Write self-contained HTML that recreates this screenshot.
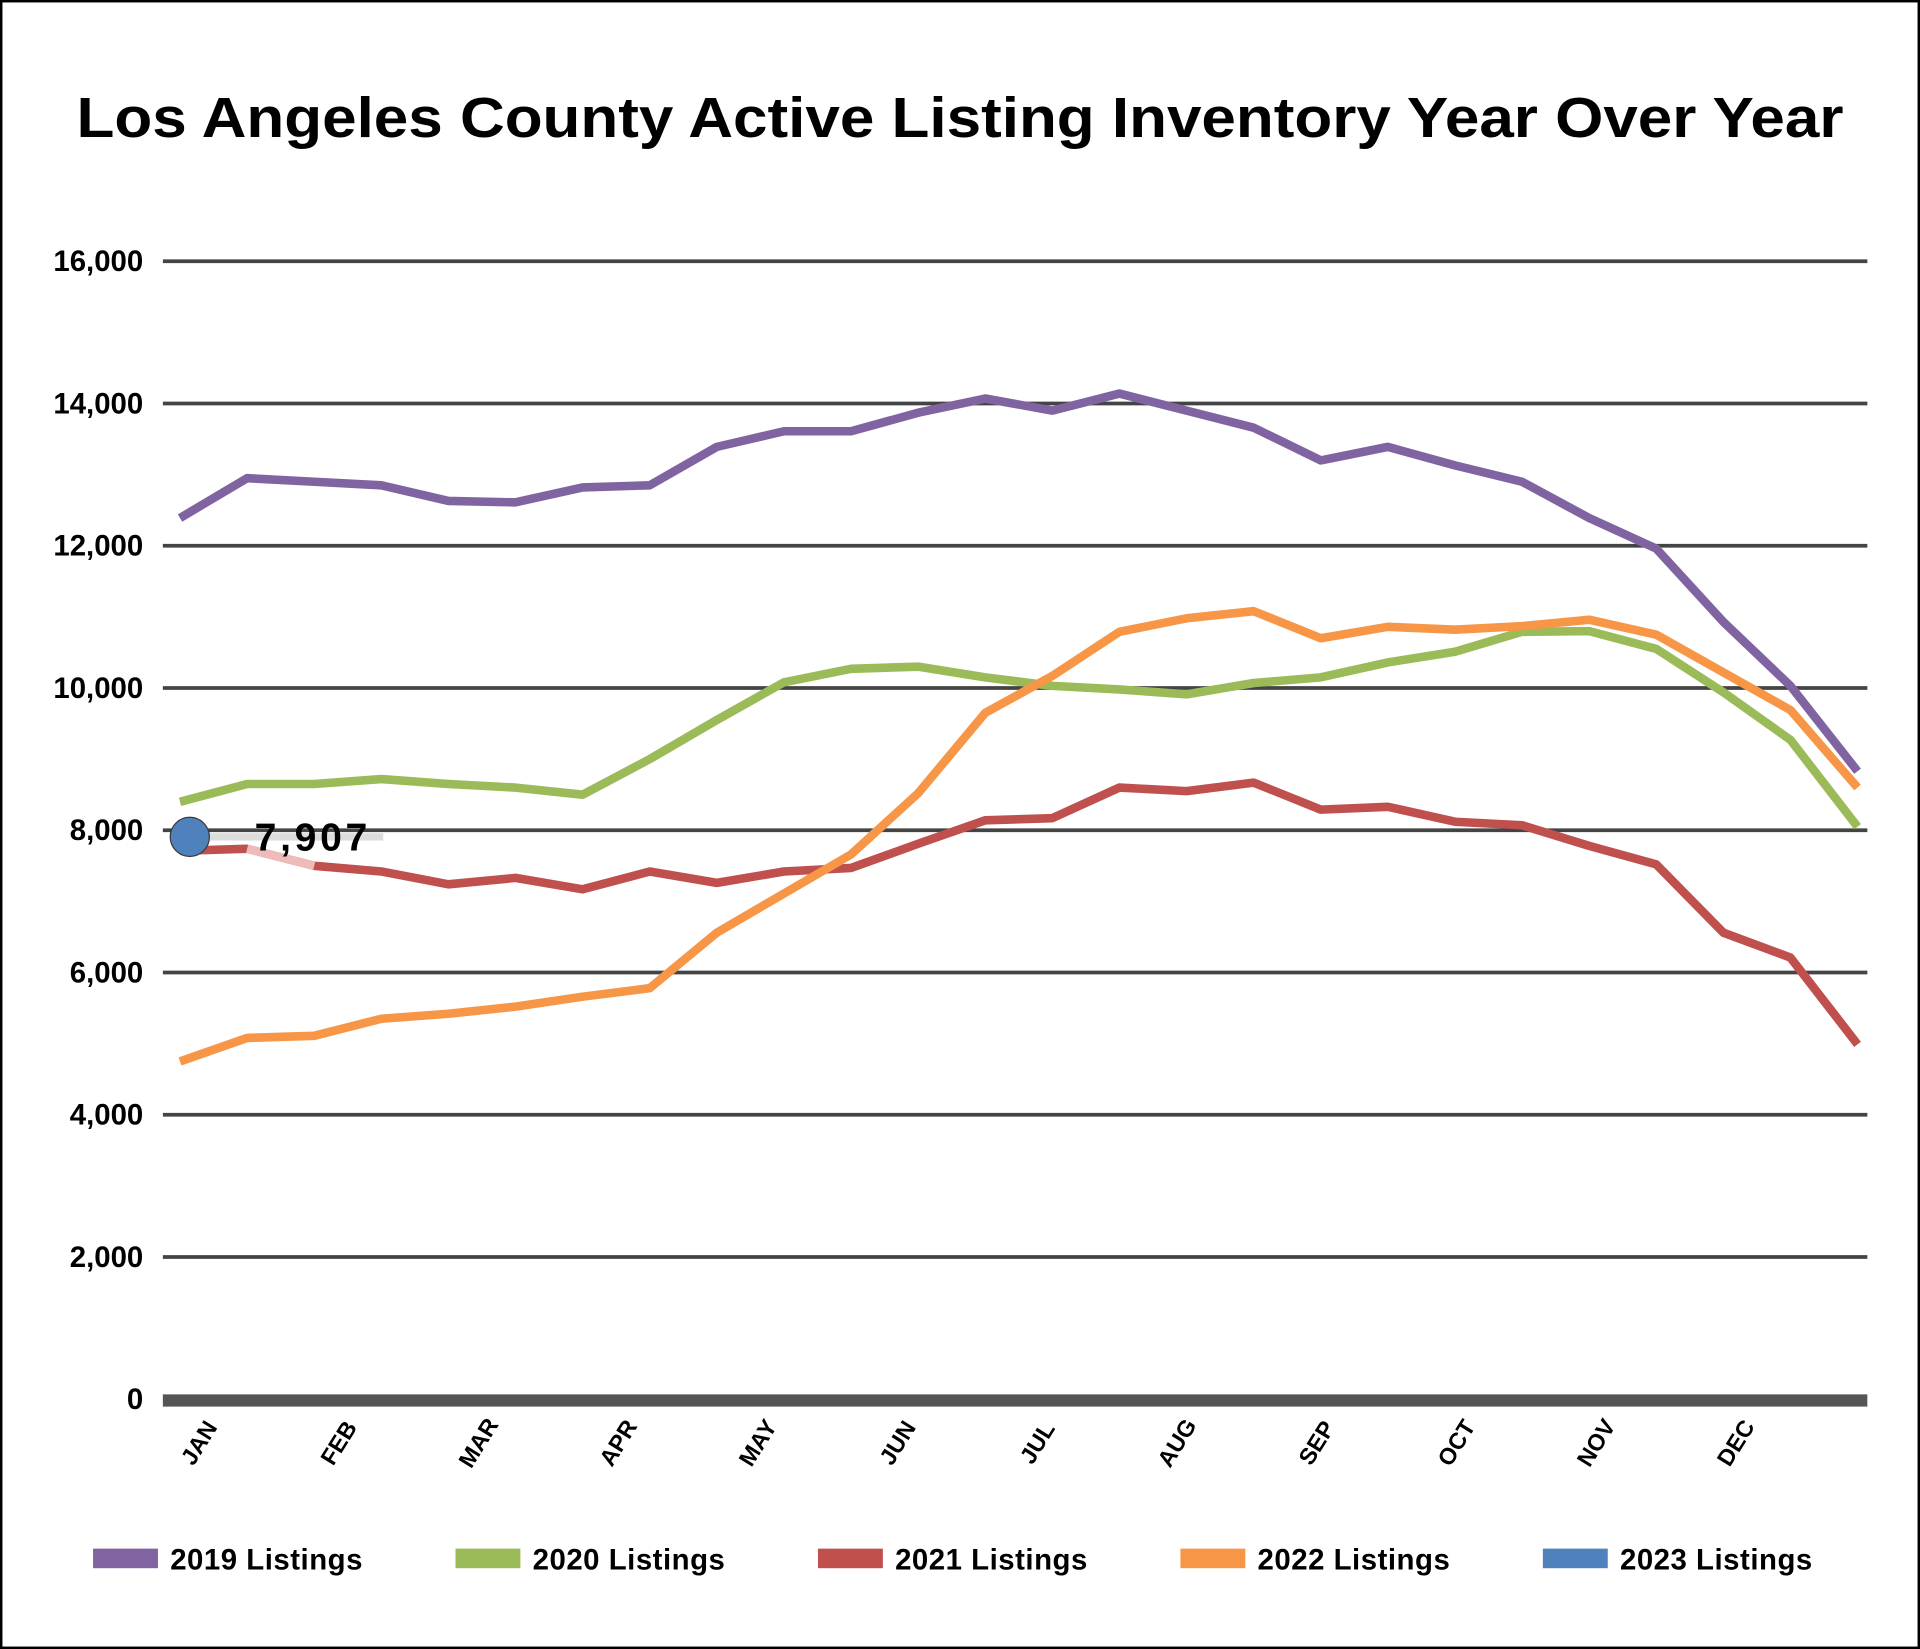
<!DOCTYPE html>
<html><head><meta charset="utf-8"><style>
html,body{margin:0;padding:0;background:#fff;}
svg{display:block;font-family:"Liberation Sans",sans-serif;}
</style></head><body>
<svg id="chart" width="1920" height="1649" viewBox="0 0 1568 1347" preserveAspectRatio="none" xmlns="http://www.w3.org/2000/svg">
<rect x="1" y="1" width="1566" height="1345" fill="#fff" stroke="#000" stroke-width="2"/>
<text x="784" y="112" text-anchor="middle" font-size="46" font-weight="bold" textLength="1443" lengthAdjust="spacingAndGlyphs">Los Angeles County Active Listing Inventory Year Over Year</text>
<g id="grid"></g><g id="series"></g><g id="xlabels"></g><g id="legend"></g>
</svg>
<script>
const months = ["JAN","FEB","MAR","APR","MAY","JUN","JUL","AUG","SEP","OCT","NOV","DEC"];
const yTicks = [0,2000,4000,6000,8000,10000,12000,14000,16000];
const s2019 = [12390,12950,12900,12850,12630,12610,12820,12850,13390,13610,13610,13870,14070,13900,14140,13900,13660,13200,13390,13130,12900,12390,11960,10930,10030,8830];
const s2020 = [8400,8650,8650,8720,8650,8600,8500,9000,9550,10080,10270,10300,10150,10030,9980,9910,10070,10150,10360,10510,10790,10800,10550,9940,9270,8050];
const s2021 = [7710,7740,7500,7420,7240,7330,7170,7420,7260,7420,7470,7810,8140,8170,8600,8550,8670,8290,8330,8120,8070,7780,7520,6560,6210,4990];
const s2022 = [4750,5080,5110,5350,5420,5520,5660,5780,6560,7110,7660,8520,9650,10170,10790,10980,11080,10700,10860,10820,10870,10960,10750,10220,9690,8600];
const s2023 = [7907];
const seriesNames = ["2019 Listings","2020 Listings","2021 Listings","2022 Listings","2023 Listings"];
const colors = ["#8064a2","#9bbb59","#c0504d","#f79646","#4f81bd"];
const NS="http://www.w3.org/2000/svg";
function y(v){return 1143 - v*0.0581;}
function x(i){return 147 + i*54.8;}
function mk(tag,attrs,parent){const e=document.createElementNS(NS,tag);for(const k in attrs)e.setAttribute(k,attrs[k]);parent.appendChild(e);return e;}
const grid=document.getElementById('grid');
yTicks.forEach(v=>{
  if(v>0){const l=mk('line',{x1:133,x2:1525,y1:y(v),y2:y(v),stroke:'#444','stroke-width':3},grid);
  
  }
  const t=mk('text',{x:117,y:y(v)+8,'text-anchor':'end','font-size':24,'font-weight':'bold'},grid);
  t.textContent=v.toLocaleString('en-US');
  
  
});
const base=mk('rect',{x:133,y:1139,width:1392,height:10,fill:'#555'},grid);


const sg=document.getElementById('series');
[s2019,s2020,s2021,s2022].forEach((arr,si)=>{
  const p=mk('polyline',{points:arr.map((v,i)=>x(i)+','+y(v)).join(' '),fill:'none',stroke:colors[si],'stroke-width':7,'stroke-linejoin':'round'},sg);
  
  
});
const fade=mk('polyline',{points:[1,2].map(i=>x(i)+','+y(s2021[i])).join(' '),fill:'none',stroke:'#f2c6c5','stroke-width':7,opacity:0.9},sg);


const lb=mk('rect',{x:170,y:y(s2023[0])-3,width:143,height:6,fill:'#ddd'},sg);


s2023.forEach((v,i)=>{
  const c=mk('circle',{cx:x(i)+8,cy:y(v),r:16,fill:colors[4],stroke:'#3a3a3a','stroke-width':1},sg);
  
  
  const t=mk('text',{x:208,y:y(v)+11,'font-size':32,'font-weight':'bold',textLength:92},sg);
  t.textContent=v.toLocaleString('en-US');
  
  
});
const xl=document.getElementById('xlabels');
months.forEach((m,i)=>{
  const cx=168+i*114.1, cy=1182;
  const t=mk('text',{x:cx,y:cy,'text-anchor':'middle','font-size':19,'font-weight':'bold',transform:`rotate(-58 ${cx} ${cy})`},xl);
  t.textContent=m;
  
  
});
const lg=document.getElementById('legend');
seriesNames.forEach((n,i)=>{
  const lx=76+i*296;
  const g=mk('g',{},lg);
  
  
  mk('rect',{x:lx,y:1265,width:53,height:16,fill:colors[i]},g);
  const t=mk('text',{x:lx+63,y:1282,'font-size':24,'font-weight':'bold',textLength:157},g);
  t.textContent=n;
});
</script>
</body></html>
